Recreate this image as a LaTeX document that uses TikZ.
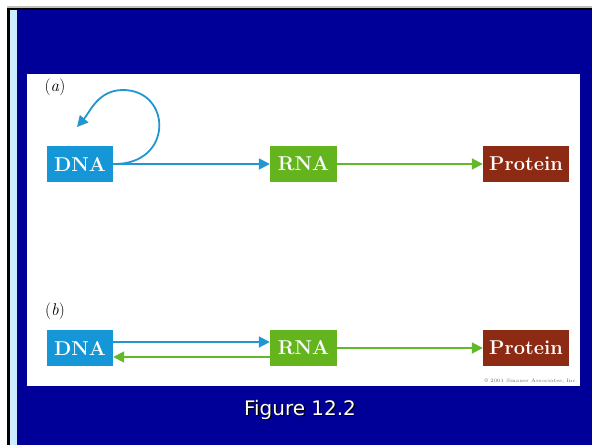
\documentclass[tikz,border=0pt]{standalone}
\usepackage{fontspec}
\newfontfamily\slidefont{DejaVu Sans}
\usetikzlibrary{arrows.meta}
\definecolor{cslide}{RGB}{0,0,153}
\definecolor{cstrip}{RGB}{204,236,255}
\definecolor{cdna}{RGB}{20,150,215}
\definecolor{crna}{RGB}{100,180,30}
\definecolor{cprot}{RGB}{140,42,20}
\definecolor{cblue}{RGB}{35,150,210}
\definecolor{cgreen}{RGB}{100,185,40}

\begin{document}
\begin{tikzpicture}[x=1pt, y=-1pt,
    >={Triangle[length=11pt,width=11pt]},
    gene/.style={minimum height=36pt, inner sep=0pt, text=white,
                 font=\fontsize{20}{20}\selectfont\bfseries},
    flow/.style={->, line width=1.8pt},
    panel/.style={font=\fontsize{17}{17}\selectfont},
    caption/.style={font=\slidefont\fontsize{20}{20}\selectfont},
  ]
  \useasboundingbox (0,0) rectangle (592,445);
  % slide frame
  \fill[white] (0,0) rectangle (592,445);
  \fill[black!25] (7,6) rectangle (592,8);
  \fill[black] (7,8) rectangle (592,445);
  \fill[cstrip] (10,10) rectangle (17,445);
  \fill[cslide] (17,10) rectangle (592,445);
  \fill[white] (27,74) rectangle (580,386);
  % (a)
  \node[panel] (labA) at (55,87) {(\textit{a})};
  \node[gene, fill=cdna, minimum width=66pt] (dnaA) at (80,164) {DNA};
  \node[gene, fill=crna, minimum width=67pt] (rnaA) at (303.5,164) {RNA};
  \node[gene, fill=cprot, minimum width=86pt] (protA) at (526,164) {Protein};
  \draw[flow, cblue] (dnaA) -- (rnaA);
  \draw[flow, cgreen] (rnaA) -- (protA);
  \coordinate (loopend) at (77,127);
  \draw[flow, cblue] (dnaA.east) .. controls (174,165) and (172,90) .. (123,90)
    .. controls (98,90) and (90,112) .. (loopend);
  % (b)
  \node[panel] (labB) at (55,311) {(\textit{b})};
  \node[gene, fill=cdna, minimum width=66pt] (dnaB) at (80,348) {DNA};
  \node[gene, fill=crna, minimum width=67pt] (rnaB) at (303.5,348) {RNA};
  \node[gene, fill=cprot, minimum width=86pt] (protB) at (526,348) {Protein};
  \draw[flow, cblue] ([yshift=6pt]dnaB.east) -- ([yshift=6pt]rnaB.west);
  \draw[flow, cgreen] ([yshift=-9pt]rnaB.west) -- ([yshift=-9pt]dnaB.east);
  \draw[flow, cgreen] (rnaB) -- (protB);
  \node[font=\fontsize{5}{5}\selectfont, text=black!60, anchor=east, inner sep=0pt]
    (credit) at (578,381) {\textcopyright\ 2001 Sinauer Associates, Inc.};
  % caption
  \node[caption, text=black] (figshadow) at (301.2,411.2) {Figure 12.2};
  \node[caption, text=white] (fig) at (300,410) {Figure 12.2};
\end{tikzpicture}
\end{document}
